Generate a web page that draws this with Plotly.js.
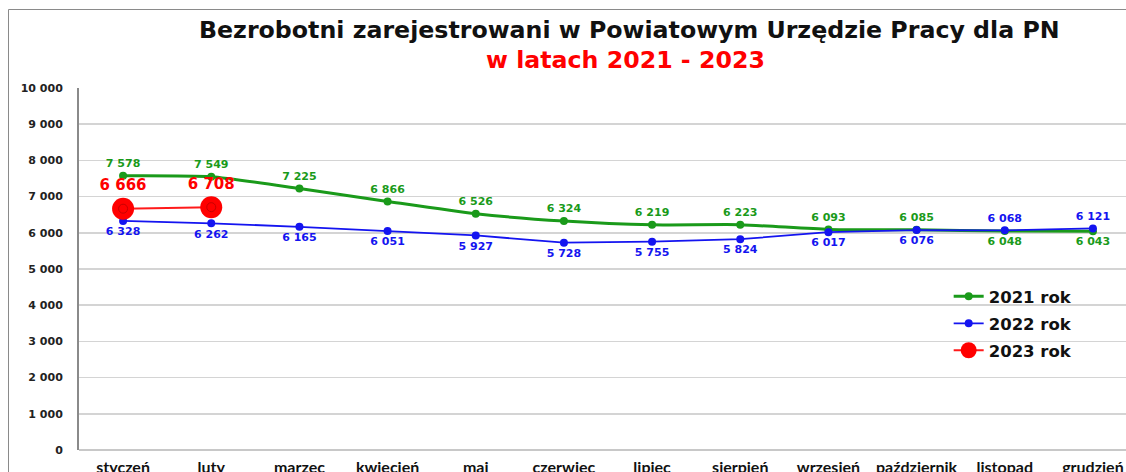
<!DOCTYPE html>
<html>
<head>
<meta charset="utf-8">
<script src="https://cdn.plot.ly/plotly-3.0.1.min.js"></script>
<style>
html,body{margin:0;padding:0;overflow:hidden;background:#fff;width:1126px;height:472px;}
#chart{width:1145px;height:472px;}
</style>
</head>
<body>
<div id="chart"></div>
<script>
const months = ["styczeń","luty","marzec","kwiecień","maj","czerwiec","lipiec","sierpień","wrzesień","październik","listopad","grudzień"];
const values2021 = [7578,7549,7225,6866,6526,6324,6219,6223,6093,6085,6048,6043];
const values2022 = [6328,6262,6165,6051,5927,5728,5755,5824,6017,6076,6068,6121];
const values2023 = [6666,6708];
const months2023 = months.slice(0,2);
const yTickVals = [0,1000,2000,3000,4000,5000,6000,7000,8000,9000,10000];
const yTickText = ["0","1 000","2 000","3 000","4 000","5 000","6 000","7 000","8 000","9 000","10 000"];
const pos2021 = ["top center","top center","top center","top center","top center","top center","top center","top center","top center","top center","bottom center","bottom center"];
const pos2022 = ["bottom center","bottom center","bottom center","bottom center","bottom center","bottom center","bottom center","bottom center","bottom center","bottom center","top center","top center"];

const fmt = v => String(v).replace(/\B(?=(\d{3})+(?!\d))/g, " ");
const LF = "DejaVu Sans, Verdana, sans-serif";
const TF = "Lato, Carlito, Calibri, sans-serif";

const traces = [
  {
    x: months, y: values2021, name: "2021 rok", legendgroup: "a", type: "scatter", mode: "lines+markers+text",
    line: {color: "#1a9a1a", width: 3, shape: "spline", smoothing: 0.6},
    marker: {color: "#1a9a1a", size: 8},
    text: values2021.map(fmt), textposition: pos2021,
    textfont: {family: LF, size: 11, color: "#1a9a1a", weight: "bold"},
    cliponaxis: false
  },
  {
    x: months, y: values2022, name: "2022 rok", legendgroup: "b", type: "scatter", mode: "lines+markers+text",
    line: {color: "#1414f0", width: 1.8},
    marker: {color: "#1414f0", size: 8},
    text: values2022.map(fmt), textposition: pos2022,
    textfont: {family: LF, size: 11, color: "#1414f0", weight: "bold"},
    cliponaxis: false
  },
  {
    x: months2023, y: values2023, name: "2023 rok", legendgroup: "c", type: "scatter", mode: "lines+markers+text",
    line: {color: "#ff1a1a", width: 2},
    marker: {color: "#ff0000", size: 22},
    text: values2023.map(fmt), textposition: "top center",
    textfont: {family: LF, size: 15, color: "#ff0000", weight: "bold"},
    cliponaxis: false
  },
  {
    x: months2023, y: values2023, name: "2023 rok", legendgroup: "c", showlegend: false, type: "scatter", mode: "markers",
    marker: {symbol: "circle-open", size: 9, color: "#c80000", line: {width: 1, color: "#c80000"}},
    hoverinfo: "skip", cliponaxis: false
  }
];

const layout = {
  width: 1145, height: 472,
  margin: {l: 79, r: 8, t: 88, b: 22, pad: 0},
  paper_bgcolor: "#fff", plot_bgcolor: "#fff",
  showlegend: true,
  legend: {
    x: 0.822, y: 0.472, xanchor: "left", yanchor: "top",
    bgcolor: "rgba(0,0,0,0)", itemwidth: 30, tracegroupgap: 2.5,
    font: {family: LF, size: 16.5, color: "#111", weight: "bold"}
  },
  xaxis: {
    type: "category", categoryorder: "array", categoryarray: months,
    range: [-0.5, 11.5], showgrid: false, zeroline: false,
    showline: false, ticks: "", ticklabelstandoff: 6,
    tickfont: {family: TF, size: 16, color: "#111", weight: "bold"},
    fixedrange: true
  },
  yaxis: {
    range: [0, 10000], tickvals: yTickVals, ticktext: yTickText,
    showgrid: true, gridcolor: "#d4d4d4", gridwidth: 1.5,
    zeroline: true, zerolinecolor: "#c8c8c8", zerolinewidth: 2,
    showline: true, linecolor: "#8a8a8a", linewidth: 2,
    ticks: "", ticklabelstandoff: 12,
    tickfont: {family: LF, size: 11, color: "#222", weight: "bold"},
    fixedrange: true
  },
  annotations: [
    {xref: "paper", yref: "paper", x: 0.52, y: (450-30)/362, xanchor: "center", yanchor: "middle",
     text: "Bezrobotni zarejestrowani w Powiatowym Urzędzie Pracy dla PN", showarrow: false,
     font: {family: LF, size: 23.7, color: "#111", weight: "bold"}},
    {xref: "paper", yref: "paper", x: 0.517, y: (450-60)/362, xanchor: "center", yanchor: "middle",
     text: "w latach 2021 - 2023", showarrow: false,
     font: {family: LF, size: 23.7, color: "#ff0000", weight: "bold"}}
  ],
  shapes: [
    {type: "line", xref: "paper", yref: "paper", x0: (8.5-79)/1058, x1: (8.5-79)/1058, y0: (450-9.5)/362, y1: (450-480)/362,
     line: {color: "#8a8a8a", width: 1}},
    {type: "line", xref: "paper", yref: "paper", x0: (8.5-79)/1058, x1: (1126-79)/1058, y0: (450-9.5)/362, y1: (450-9.5)/362,
     line: {color: "#8a8a8a", width: 1}}
  ]
};

Plotly.newPlot("chart", traces, layout, {displayModeBar: false, staticPlot: true});
</script>
</body>
</html>
